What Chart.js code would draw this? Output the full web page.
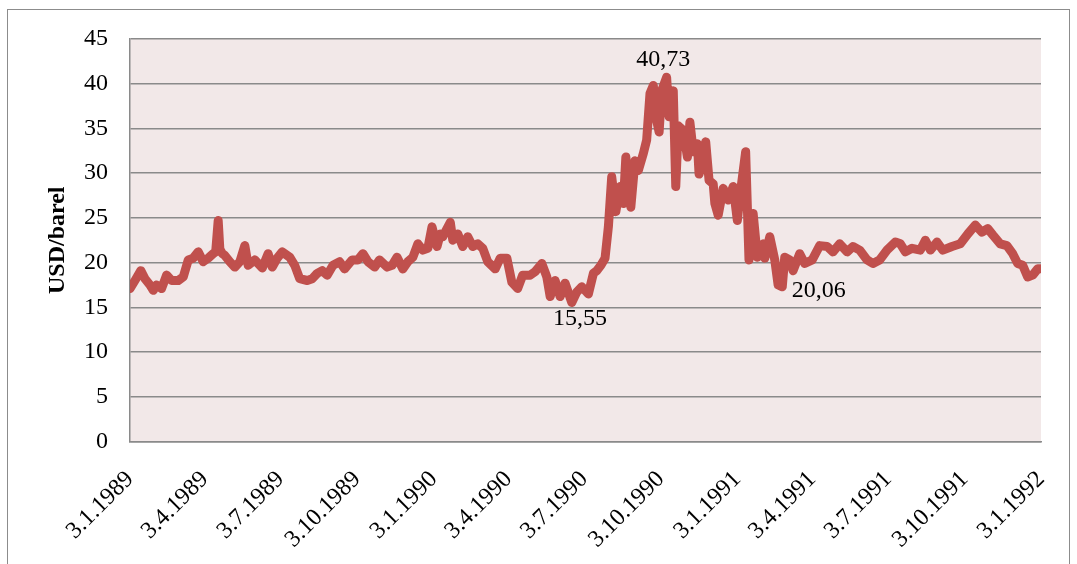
<!DOCTYPE html>
<html>
<head>
<meta charset="utf-8">
<script src="https://cdn.jsdelivr.net/npm/chart.js@4.4.0/dist/chart.umd.min.js"></script>
<style>
  html, body { margin: 0; padding: 0; background: #fff; }
  #wrap { width: 1077px; height: 564px; }
</style>
</head>
<body>
<div id="wrap"><canvas id="oilChart" width="1077" height="564"></canvas></div>
<script>
// x values: days counted from 3.1.1989
const dayIndex = [
  0, 6, 13, 18, 24, 28, 32, 38, 44, 50, 58, 64, 70, 76, 82, 88, 94, 100, 103, 106,
  108, 111, 114, 120, 126, 132, 138, 142, 150, 159, 166, 171, 177, 183, 192, 198, 204, 213, 219, 225,
  231, 237, 244, 252, 258, 267, 274, 280, 286, 294, 300, 309, 315, 321, 328, 334, 340, 346, 352, 358,
  363, 369, 373, 376, 385, 388, 394, 400, 406, 412, 418, 424, 430, 439, 445, 453, 459, 466, 472, 481,
  487, 495, 501, 505, 511, 517, 523, 531, 537, 543, 551, 557, 561, 566, 571, 575, 579, 584, 589, 593,
  596, 602, 607, 611, 617, 621, 625, 629, 633, 636, 639, 645, 648, 653, 656, 659, 665, 670, 673, 677,
  682, 684, 689, 692, 696, 701, 703, 707, 713, 719, 725, 730, 733, 740, 744, 749, 754, 761, 763, 769,
  775, 779, 784, 787, 793, 797, 805, 811, 820, 829, 838, 845, 853, 862, 869, 877, 886, 893, 901, 910,
  920, 926, 932, 940, 950, 956, 962, 970, 977, 988, 998, 1007, 1016, 1024, 1031, 1037, 1046, 1054, 1061, 1067,
  1073, 1079, 1085, 1091, 1095
];

// USD per barrel
const prices = [
  17.1, 18.0, 19.1, 18.2, 17.5, 16.9, 17.5, 17.1, 18.6, 18.0, 18.0, 18.4, 20.3, 20.5, 21.2, 20.1, 20.5, 21.0, 21.2, 24.7,
  21.5, 21.0, 20.8, 20.1, 19.5, 20.1, 21.9, 19.7, 20.3, 19.4, 21.0, 19.5, 20.5, 21.2, 20.6, 19.7, 18.2, 18.0, 18.2, 18.8,
  19.1, 18.6, 19.7, 20.1, 19.3, 20.3, 20.3, 21.0, 20.1, 19.5, 20.3, 19.5, 19.7, 20.6, 19.3, 20.1, 20.6, 22.1, 21.4, 21.6,
  24.0, 21.8, 23.2, 22.9, 24.5, 22.5, 23.2, 21.8, 22.9, 21.8, 22.1, 21.6, 20.1, 19.3, 20.5, 20.5, 17.8, 17.1, 18.6, 18.6,
  19.0, 19.9, 18.4, 16.2, 18.0, 16.2, 17.7, 15.55, 16.7, 17.3, 16.5, 18.8, 19.1, 19.7, 20.5, 24.0, 29.6, 25.7, 28.5, 26.6,
  31.8, 26.2, 31.4, 30.3, 32.2, 33.7, 38.9, 39.8, 35.9, 34.6, 39.2, 40.73, 36.3, 39.2, 28.5, 35.3, 34.8, 31.8, 35.7, 32.4,
  33.3, 29.9, 31.4, 33.5, 29.2, 28.8, 26.6, 25.3, 28.3, 27.0, 28.5, 24.7, 27.3, 32.4, 20.3, 25.5, 20.6, 22.1, 20.5, 22.9,
  20.3, 17.5, 17.3, 20.6, 20.3, 19.1, 21.0, 19.9, 20.3, 21.9, 21.8, 21.2, 22.1, 21.2, 21.8, 21.4, 20.3, 19.9, 20.3, 21.4,
  22.3, 22.1, 21.2, 21.6, 21.4, 22.5, 21.4, 22.3, 21.4, 21.8, 22.1, 23.2, 24.2, 23.4, 23.8, 23.1, 22.1, 21.9, 21.0, 19.9,
  19.7, 18.4, 18.6, 19.3, 19.3
];

const tickLabels = ['3.1.1989', '3.4.1989', '3.7.1989', '3.10.1989', '3.1.1990', '3.4.1990', '3.7.1990',
  '3.10.1990', '3.1.1991', '3.4.1991', '3.7.1991', '3.10.1991', '3.1.1992'];
const tickDays = [0, 90, 181, 273, 365, 455, 546, 638, 730, 820, 911, 1003, 1095];

// value labels written on the curve
const noteTexts = ['40,73', '15,55', '20,06'];
const noteDays = [641, 541, 828];
const noteValues = [40.73, 15.55, 20.06];

const serif = '"Liberation Serif", "Times New Roman", serif';
const gridGray = '#8a8a8a';

const frame = {
  id: 'frame',
  beforeDraw(chart) {
    const { ctx, chartArea: a } = chart;
    ctx.save();
    ctx.fillStyle = '#f2e8e8';
    ctx.fillRect(a.left, a.top, a.right - a.left, a.bottom - a.top);
    ctx.strokeStyle = '#8c8c8c';
    ctx.lineWidth = 1;
    ctx.strokeRect(7.5, 9.5, 1062, 600);
    ctx.restore();
  }
};

const notes = {
  id: 'notes',
  afterDatasetsDraw(chart) {
    const { ctx, scales } = chart;
    const shift = [-17, 16, 29];
    ctx.save();
    ctx.font = '24px ' + serif;
    ctx.fillStyle = '#000';
    ctx.textAlign = 'center';
    ctx.textBaseline = 'middle';
    noteTexts.forEach((t, i) => {
      const x = scales.x.getPixelForValue(noteDays[i]);
      const y = scales.y.getPixelForValue(noteValues[i]) + shift[i];
      ctx.fillText(t, x, y);
    });
    ctx.restore();
  }
};

new Chart(document.getElementById('oilChart'), {
  type: 'line',
  data: {
    datasets: [{
      data: dayIndex.map((d, i) => ({ x: d, y: prices[i] })),
      borderColor: '#c0504d',
      borderWidth: 9,
      borderJoinStyle: 'round',
      borderCapStyle: 'round',
      pointRadius: 0,
      tension: 0,
      fill: false
    }]
  },
  options: {
    responsive: false,
    animation: false,
    layout: { padding: { left: 43, right: 36, top: 39, bottom: 0 } },
    plugins: { legend: { display: false }, tooltip: { enabled: false } },
    scales: {
      x: {
        type: 'linear',
        min: 0,
        max: 1095,
        afterBuildTicks(scale) { scale.ticks = tickDays.map(v => ({ value: v })); },
        afterFit(scale) {
          scale.height = 122.5;
          scale.paddingRight = 0;
        },
        grid: { display: false, drawTicks: false },
        border: { display: true, color: gridGray, width: 1.5 },
        ticks: {
          autoSkip: false,
          maxRotation: 45,
          minRotation: 45,
          padding: 24,
          color: '#000',
          font: { family: serif, size: 24 },
          callback: (v) => tickLabels[tickDays.indexOf(v)]
        }
      },
      y: {
        min: 0,
        max: 45,
        afterFit(scale) { scale.width = 87; },
        grid: { color: gridGray, lineWidth: 1.5, drawTicks: false },
        border: { display: true, color: gridGray, width: 1.5 },
        ticks: {
          stepSize: 5,
          padding: 22,
          color: '#000',
          font: { family: serif, size: 24 }
        },
        title: {
          display: true,
          text: 'USD/barel',
          color: '#000',
          padding: 0,
          font: { family: serif, size: 24, weight: 'bold' }
        }
      }
    }
  },
  plugins: [frame, notes]
});
</script>
</body>
</html>
